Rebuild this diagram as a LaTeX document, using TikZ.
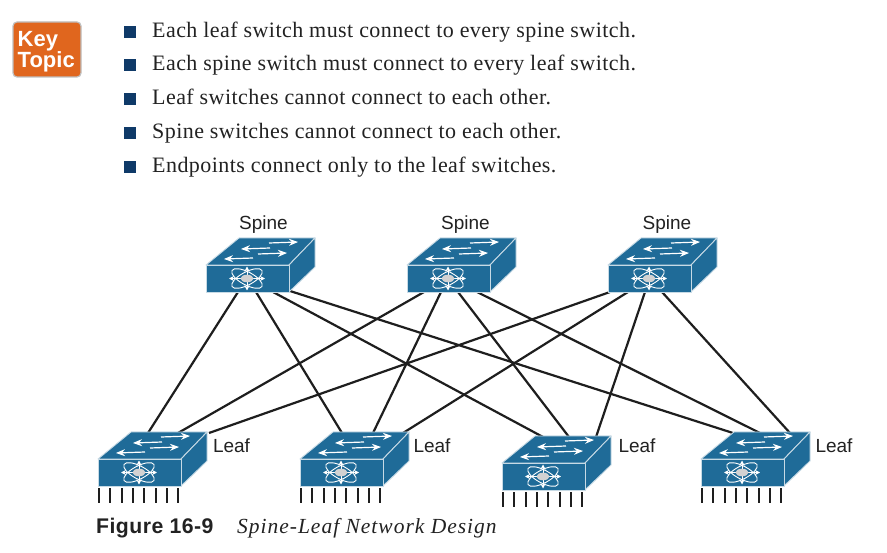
\documentclass[tikz,border=0pt]{standalone}
\usepackage{fontspec}
\setmainfont{Liberation Serif}
\setsansfont{Liberation Sans}
\usetikzlibrary{arrows.meta}
\definecolor{sw}{HTML}{1F6B98}
\definecolor{bul}{HTML}{0F3A68}
\definecolor{keyo}{HTML}{E0661E}
\definecolor{lnk}{HTML}{1E1E1E}
\definecolor{txt}{HTML}{222222}
\newfontfamily\bodyfam[LetterSpace=2]{Liberation Serif}
\newfontfamily\capfam[LetterSpace=4.6,ItalicFont={Liberation Serif Italic}]{Liberation Serif}
\newfontfamily\figfam[LetterSpace=2.2,BoldFont={Liberation Sans Bold}]{Liberation Sans}
\tikzset{
 x=1pt,y=-1pt,
 swface/.style={fill=sw,draw=white!75!sw,line width=0.9pt,line join=round},
 swarrow/.style={draw=white,line width=1.2pt,-{Stealth[length=9pt,width=7pt]}},
 starline/.style={draw=white,line width=0.9pt},
 stararrow/.style={draw=white,line width=1pt,-{Stealth[length=5pt,width=5pt]}},
 wire/.style={draw=lnk,line width=2.2pt},
 tickline/.style={draw=lnk,line width=2pt},
 swlabel/.style={font=\sffamily\fontsize{19}{20}\selectfont,text=txt,inner sep=0pt},
 bodyline/.style={font=\bodyfam\fontsize{22}{24}\selectfont,text=txt,anchor=base west,inner sep=0pt},
 bulletbox/.style={fill=bul,minimum size=12.5pt,inner sep=0pt,draw=none},
 switch/.pic={
  \path[swface] (0,0) -- (33,-27) -- (109,-27) -- (83,0) -- cycle;
  \path[swface] (83,0) -- (109,-27) -- (109,2) -- (83,27) -- cycle;
  \path[swface] (0,0) rectangle (83,27);
  \draw[swarrow] (63,-22) -- (92,-23);
  \draw[swarrow] (64,-17) -- (35,-16);
  \draw[swarrow] (52,-11) -- (81,-12);
  \draw[swarrow] (47,-7) -- (18,-6);
  \begin{scope}[shift={(41,13.5)}]
   \draw[starline] (0,0) ellipse [x radius=17,y radius=6.5,rotate=28];
   \draw[starline] (0,0) ellipse [x radius=17,y radius=6.5,rotate=-28];
   \draw[stararrow] (0,0) -- (0,-12);
   \draw[stararrow] (0,0) -- (0,12);
   \draw[stararrow] (0,0) -- (-18,0);
   \draw[stararrow] (0,0) -- (18,0);
   \fill[white!65!gray] (0,0) ellipse [x radius=6.5,y radius=3.8];
  \end{scope}
 },
}
\begin{document}
\begin{tikzpicture}
\useasboundingbox (0,0) rectangle (887,553);
\fill[white] (0,0) rectangle (887,553);

% Key Topic badge
\node[fill=keyo,draw=gray!50,line width=1.2pt,rounded corners=4pt,minimum width=68pt,minimum height=55pt,inner sep=0pt] (key) at (47,49.5) {};
\node[font=\sffamily\bfseries\fontsize{22}{21}\selectfont,text=white,align=left,inner sep=0pt,anchor=west] (keytxt) at (17.5,51.5) {Key\\Topic};

% bullets
\foreach \n/\y/\t in {a/38/Each leaf switch must connect to every spine switch.,
 b/71/Each spine switch must connect to every leaf switch.,
 c/105/Leaf switches cannot connect to each other.,
 d/139/Spine switches cannot connect to each other.,
 e/173/Endpoints connect only to the leaf switches.}{
  \node[bulletbox] (bul\n) at (130,\y-6) {};
  \node[bodyline] (txt\n) at (152,\y) {\t};
}

% switch positions
\coordinate (S1pos) at (206,265);
\coordinate (S2pos) at (407,265);
\coordinate (S3pos) at (608,265);
\coordinate (L1pos) at (98,459);
\coordinate (L2pos) at (300,459);
\coordinate (L3pos) at (502,463);
\coordinate (L4pos) at (701,459);

% connection points
\coordinate (S1a) at (238,292);
\coordinate (S1b) at (256,292);
\coordinate (S1c) at (273,292);
\coordinate (S1d) at (290,291);
\coordinate (S2a) at (424,292);
\coordinate (S2b) at (441,292);
\coordinate (S2c) at (458,292);
\coordinate (S2d) at (477,292);
\coordinate (S3a) at (610,292);
\coordinate (S3b) at (628,292);
\coordinate (S3c) at (645,292);
\coordinate (S3d) at (662,292);
\coordinate (L1a) at (148,433);
\coordinate (L1b) at (178,433);
\coordinate (L1c) at (209,433);
\coordinate (L2a) at (342,433);
\coordinate (L2b) at (373,433);
\coordinate (L2c) at (403,433);
\coordinate (L3a) at (543,437);
\coordinate (L3b) at (569,437);
\coordinate (L3c) at (596,437);
\coordinate (L4a) at (733,433);
\coordinate (L4b) at (760,433);
\coordinate (L4c) at (790,433);

\draw[wire] (S1a) -- (L1a);
\draw[wire] (S1b) -- (L2a);
\draw[wire] (S1c) -- (L3a);
\draw[wire] (S1d) -- (L4a);
\draw[wire] (S2a) -- (L1b);
\draw[wire] (S2b) -- (L2b);
\draw[wire] (S2c) -- (L3b);
\draw[wire] (S2d) -- (L4b);
\draw[wire] (S3a) -- (L1c);
\draw[wire] (S3b) -- (L2c);
\draw[wire] (S3c) -- (L3c);
\draw[wire] (S3d) -- (L4c);

% switches
\foreach \n in {S1,S2,S3,L1,L2,L3,L4}{
 \pic (\n) at (\n pos) {switch};
}
% ports
\foreach \n in {L1,L2,L3,L4}{
 \foreach \i in {0,...,7}{
  \draw[tickline] ([xshift=\i*11.3pt+1pt,yshift=-29pt]\n pos) -- ([xshift=\i*11.3pt+1pt,yshift=-44pt]\n pos);
 }
}

% labels
\node[swlabel] (lbs1) at (263.5,225) {Spine};
\node[swlabel] (lbs2) at (465.5,225) {Spine};
\node[swlabel] (lbs3) at (667,225) {Spine};
\node[swlabel] (lbl1) at (231.5,446) {Leaf};
\node[swlabel] (lbl2) at (432,446) {Leaf};
\node[swlabel] (lbl3) at (637,446) {Leaf};
\node[swlabel] (lbl4) at (834,446) {Leaf};

% caption
\node[font=\figfam\bfseries\fontsize{21.2}{22}\selectfont,text=txt,anchor=base west,inner sep=0pt] (figno) at (96,533) {Figure 16-9};
\node[font=\capfam\itshape\fontsize{21.5}{24}\selectfont,text=txt,anchor=base west,inner sep=0pt] (figtitle) at (237,533) {Spine-Leaf Network Design};
\end{tikzpicture}
\end{document}
